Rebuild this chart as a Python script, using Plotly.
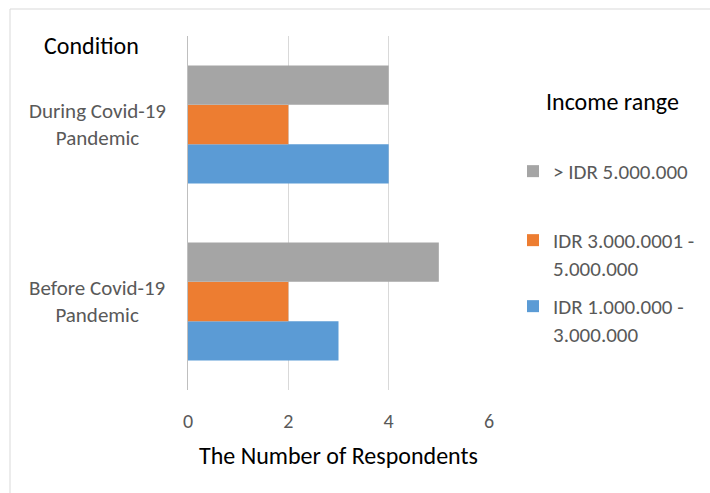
import plotly.graph_objects as go

# Survey: respondents by income range, before and during the pandemic
conditions = ["Before Covid-19 Pandemic", "During Covid-19 Pandemic"]
condition_labels = ["Before Covid-19<br>Pandemic", "During Covid-19<br>Pandemic"]

series_names = [
    "IDR 1.000.000 -<br>3.000.000",
    "IDR 3.000.0001 -<br>5.000.000",
    "> IDR 5.000.000",
]
low_income = [3, 4]
mid_income = [2, 2]
high_income = [5, 4]

series_values = [low_income, mid_income, high_income]
series_colors = ["#5b9bd5", "#ed7d31", "#a5a5a5"]
legend_ids = ["legend3", "legend2", "legend"]

x_ticks = [0, 2, 4, 6]

FONT = "Carlito, Lato, sans-serif"
GREY_TEXT = "#595959"

W, H = 710, 493
L, R, T, B = 188, 221, 36, 103
plot_w = W - L - R
plot_h = H - T - B


def px_x(x):
    return (x - L) / plot_w


def px_y(y):
    return (H - B - y) / plot_h


fig = go.Figure()
for name, vals, color, lg in zip(series_names, series_values, series_colors, legend_ids):
    fig.add_trace(go.Bar(
        y=conditions,
        x=vals,
        name=name,
        orientation="h",
        marker=dict(color=color, line=dict(width=0)),
        legend=lg,
    ))

legend_common = dict(
    x=px_x(513),
    xanchor="left",
    yanchor="top",
    valign="top",
    itemwidth=30,
    bgcolor="rgba(0,0,0,0)",
    font=dict(family=FONT, size=21, color=GREY_TEXT),
)

fig.update_layout(
    width=W,
    height=H,
    margin=dict(l=L, r=R, t=T, b=B, pad=0, autoexpand=False),
    paper_bgcolor="white",
    plot_bgcolor="white",
    barmode="group",
    bargap=0.333,
    bargroupgap=0,
    showlegend=True,
    legend=dict(y=px_y(151), **legend_common),
    legend2=dict(y=px_y(220), **legend_common),
    legend3=dict(y=px_y(286), **legend_common),
    xaxis=dict(
        range=[0, 6],
        tickvals=x_ticks,
        ticktext=[str(v) for v in x_ticks],
        showgrid=True,
        gridcolor="#d9d9d9",
        gridwidth=1,
        zeroline=False,
        showline=False,
        ticks="",
        ticklabelstandoff=17,
        tickfont=dict(family=FONT, size=20, color=GREY_TEXT),
        title=dict(
            text="The Number of Respondents",
            font=dict(family=FONT, size=24, color="#000000"),
            standoff=15,
        ),
        fixedrange=True,
    ),
    yaxis=dict(
        categoryorder="array",
        categoryarray=conditions,
        showticklabels=False,
        showgrid=False,
        zeroline=False,
        showline=True,
        linecolor="#bfbfbf",
        linewidth=1,
        ticks="",
        fixedrange=True,
    ),
)

# Category labels, centred to the left of the axis
for cond, label in zip(conditions, condition_labels):
    fig.add_annotation(
        x=px_x(97), xref="paper", y=cond, yref="y",
        text=label, showarrow=False, align="center",
        xanchor="center", yanchor="middle",
        font=dict(family=FONT, size=21, color=GREY_TEXT),
    )

# Axis and legend headings
fig.add_annotation(
    x=px_x(91), xref="paper", y=px_y(46), yref="paper",
    text="Condition", showarrow=False, xanchor="center", yanchor="middle",
    font=dict(family=FONT, size=24, color="#000000"),
)
fig.add_annotation(
    x=px_x(612), xref="paper", y=px_y(102), yref="paper",
    text="Income range", showarrow=False, xanchor="center", yanchor="middle",
    font=dict(family=FONT, size=24, color="#000000"),
)

# Chart frame
fig.add_shape(
    type="rect", xref="paper", yref="paper",
    x0=px_x(10), y0=px_y(560), x1=px_x(800), y1=px_y(9),
    line=dict(color="#d9d9d9", width=1), fillcolor="rgba(0,0,0,0)",
    layer="below",
)

fig.write_html("out.html")
